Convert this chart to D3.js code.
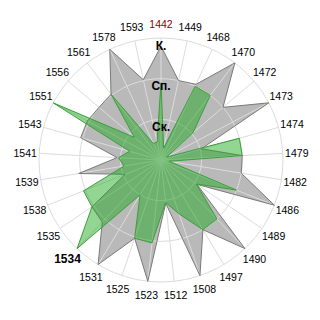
<!DOCTYPE html>
<html><head><meta charset="utf-8">
<script src="https://cdn.jsdelivr.net/npm/d3@7"></script>
<style>html,body{margin:0;padding:0;background:#fff;}svg{display:block;}</style>
</head><body>
<svg id="chart" width="320" height="320"></svg>
<script>
const categories = ["1442","1449","1468","1470","1472","1473","1474","1479","1482","1486","1489","1490","1497","1508","1512","1523","1525","1531","1534","1535","1538","1539","1541","1543","1551","1556","1561","1578","1593"];
const seriesGray = [2.8,2.0,2.05,3.0,2.0,3.0,1.03,2.0,2.0,3.0,1.07,3.0,2.0,3.0,1.07,3.0,2.03,3.0,2.1,2.05,0.95,2.05,1.08,2.05,2.05,2.0,2.03,3.0,2.02];
const seriesGreen = [1.9,0.3,2.0,2.0,1.03,0.15,2.0,2.0,0.2,2.0,1.05,2.0,2.0,1.4,1.05,2.05,2.03,1.0,3.0,2.05,2.05,0.92,1.05,0.8,3.0,0.86,2.03,0.45,0.45];
const levelValues = [1,2,3];
const levelLabels = ["Ск.","Сп.","К."];

const cx = 161, cy = 160, R = 122, labelR = 136;
const svg = d3.select("#chart");
const g = svg.append("g").attr("transform", `translate(${cx},${cy})`);
const n = categories.length;
const angle = d3.scaleLinear().domain([0, n]).range([0, 2 * Math.PI]);
const r = d3.scaleLinear().domain([0, 3]).range([0, R]);

const radial = d3.lineRadial()
  .angle((d, i) => angle(i))
  .radius(d => r(d))
  .curve(d3.curveLinearClosed);

// gray series fill
g.append("path").datum(seriesGray).attr("d", radial)
  .attr("fill", "#b9b9b9").attr("stroke", "none");

// grid
const grid = g.append("g");
grid.selectAll("circle").data(levelValues).join("circle")
  .attr("r", d => r(d)).attr("fill", "none").attr("stroke", "#dcdcdc").attr("stroke-width", 1);
grid.selectAll("line").data(categories).join("line")
  .attr("x1", 0).attr("y1", 0)
  .attr("x2", (d, i) => r(3) * Math.sin(angle(i)))
  .attr("y2", (d, i) => -r(3) * Math.cos(angle(i)))
  .attr("stroke", "#dcdcdc").attr("stroke-width", 1);

// gray stroke
g.append("path").datum(seriesGray).attr("d", radial)
  .attr("fill", "none").attr("stroke", "#7a7a7a").attr("stroke-width", 1);

// green series
g.append("path").datum(seriesGreen).attr("d", radial)
  .attr("fill", "rgb(30,170,30)").attr("fill-opacity", 0.48)
  .attr("stroke", "#3c9e3c").attr("stroke-width", 1);

// category labels
g.selectAll("text.cat").data(categories).join("text")
  .attr("class", "cat")
  .attr("x", (d, i) => labelR * Math.sin(angle(i)))
  .attr("y", (d, i) => -labelR * Math.cos(angle(i)))
  .attr("text-anchor", "middle").attr("dominant-baseline", "central")
  .attr("font-family", "'Liberation Sans', Arial, sans-serif")
  .attr("font-size", d => d === "1534" ? 12 : 10.5)
  .attr("font-weight", d => d === "1534" ? "bold" : "normal")
  .attr("fill", d => d === "1442" ? "#8b0000" : "#000")
  .text(d => d);

// level labels
g.selectAll("text.lvl").data(levelValues).join("text")
  .attr("class", "lvl")
  .attr("x", 0)
  .attr("y", d => -r(d) + 7.5)
  .attr("text-anchor", "middle").attr("dominant-baseline", "central")
  .attr("font-family", "'Liberation Sans', Arial, sans-serif")
  .attr("font-size", 12).attr("font-weight", "bold").attr("fill", "#000")
  .text((d, i) => levelLabels[i]);
</script>
</body></html>
